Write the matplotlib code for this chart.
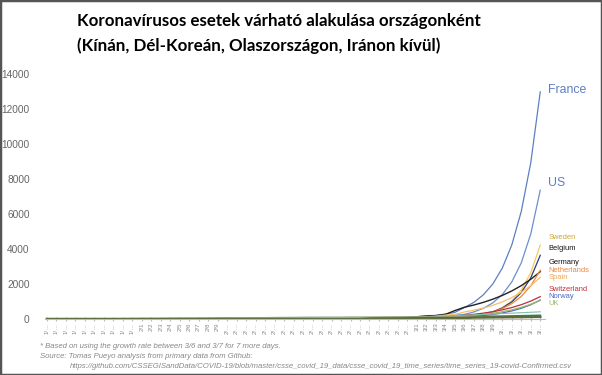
import numpy as np
import pandas as pd
import matplotlib
matplotlib.use('Agg')
import matplotlib.pyplot as plt
from matplotlib.patches import Rectangle

plt.rcParams['font.family'] = ['Liberation Sans', 'DejaVu Sans']

# dátumok 1/22 - 3/14 (3/8-tól becslés)
dates = pd.date_range('2020-01-22', '2020-03-14')
tick_labels = [f'{d.month}/{d.day}' if d.day < 10 else f'{d.month}/…' for d in dates]

france = [0, 0, 2, 3, 3, 3, 4, 5, 5, 5,
          6, 6, 6, 6, 6, 6, 6, 11, 11, 11, 11, 11, 11, 11, 12, 12, 12, 12, 12, 12,
          12, 12, 12, 12, 14, 18, 38, 57, 100,
          130, 191, 204, 285, 377, 653, 949, 1380, 2000, 2910, 4230, 6150, 8930, 12980]
us = [1, 1, 2, 2, 5, 5, 5, 5, 5, 6,
      8, 8, 11, 11, 11, 12, 12, 12, 12, 12, 13, 13, 14, 14, 15, 15, 15, 15, 15, 15,
      35, 35, 35, 53, 53, 59, 60, 62, 68,
      74, 98, 118, 149, 217, 262, 402, 609, 923, 1398, 2118, 3209, 4861, 7365]
sweden = [0, 0, 0, 0, 0, 0, 0, 0, 0, 1,
          1, 1, 1, 1, 1, 1, 1, 1, 1, 1, 1, 1, 1, 1, 1, 1, 1, 1, 1, 1,
          1, 1, 1, 1, 1, 2, 7, 7, 12,
          14, 15, 21, 35, 94, 101, 161, 257, 409, 652, 1040, 1660, 2650, 4220]
belgium = [0, 0, 0, 0, 0, 0, 0, 0, 0, 0,
           0, 0, 0, 1, 1, 1, 1, 1, 1, 1, 1, 1, 1, 1, 1, 1, 1, 1, 1, 1,
           1, 1, 1, 1, 1, 1, 1, 1, 1,
           2, 8, 13, 23, 50, 109, 169, 262, 406, 630, 977, 1514, 2347, 3640]
germany = [0, 0, 0, 0, 0, 1, 4, 4, 4, 5,
           8, 10, 12, 12, 12, 12, 13, 13, 14, 14, 16, 16, 16, 16, 16, 16, 16, 16, 16, 16,
           16, 16, 16, 16, 17, 27, 46, 48, 79,
           130, 159, 196, 262, 482, 670, 799, 951, 1132, 1347, 1603, 1907, 2270, 2700]
netherlands = [0, 0, 0, 0, 0, 0, 0, 0, 0, 0,
               0, 0, 0, 0, 0, 0, 0, 0, 0, 0, 0, 0, 0, 0, 0, 0, 0, 0, 0, 0,
               0, 0, 0, 0, 0, 0, 1, 1, 6,
               10, 18, 24, 38, 82, 128, 188, 276, 406, 597, 877, 1290, 1896, 2787]
spain = [0, 0, 0, 0, 0, 0, 0, 0, 0, 0,
         1, 1, 1, 1, 1, 1, 1, 1, 2, 2, 2, 2, 2, 2, 2, 2, 2, 2, 2, 2,
         2, 2, 2, 2, 6, 13, 15, 32, 45,
         84, 120, 165, 222, 259, 400, 500, 625, 781, 977, 1221, 1526, 1907, 2384]
switzerland = [0, 0, 0, 0, 0, 0, 0, 0, 0, 0,
               0, 0, 0, 0, 0, 0, 0, 0, 0, 0, 0, 0, 0, 0, 0, 0, 0, 0, 0, 0,
               0, 0, 0, 0, 1, 1, 8, 8, 18,
               27, 42, 56, 90, 114, 214, 268, 335, 419, 524, 655, 819, 1023, 1279]
norway = [0, 0, 0, 0, 0, 0, 0, 0, 0, 0,
          0, 0, 0, 0, 0, 0, 0, 0, 0, 0, 0, 0, 0, 0, 0, 0, 0, 0, 0, 0,
          0, 0, 0, 0, 0, 1, 1, 6, 15,
          19, 25, 32, 56, 87, 108, 147, 196, 260, 346, 460, 612, 814, 1083]
uk = [0, 0, 0, 0, 0, 0, 0, 0, 0, 2,
      2, 2, 2, 2, 2, 3, 3, 3, 3, 8, 8, 9, 9, 9, 9, 9, 9, 9, 9, 9,
      9, 9, 9, 9, 13, 13, 15, 20, 23,
      36, 40, 51, 85, 115, 163, 206, 260, 329, 416, 526, 665, 840, 1062]
# címke nélküli országok
other_a = [1, 1, 1, 1, 2, 2, 3, 3, 5, 7,
           9, 9, 9, 10, 10, 12, 12, 12, 13, 13, 13, 14, 14, 15, 20, 27, 31, 35, 40, 44,
           49, 56, 66, 72, 77, 85, 96, 103, 110,
           120, 135, 150, 170, 190, 210, 235, 260, 285, 310, 335, 360, 385, 410]
other_b = [0, 1, 3, 3, 4, 5, 7, 7, 10, 13,
           16, 18, 18, 24, 28, 28, 30, 33, 40, 45, 47, 50, 58, 67, 72, 75, 77, 81, 84, 84,
           85, 85, 89, 89, 91, 93, 96, 98, 102,
           106, 108, 110, 110, 117, 130, 138, 146, 155, 165, 175, 186, 197, 210]
other_c = [0, 2, 2, 5, 8, 8, 8, 10, 10, 12,
           13, 15, 15, 17, 21, 24, 25, 26, 29, 38, 49, 50, 53, 56, 56, 57, 60, 62, 63, 68,
           68, 69, 74, 79, 84, 91, 92, 94, 95,
           96, 100, 100, 105, 105, 107, 108, 109, 110, 111, 112, 113, 114, 115]
other_d = [0, 0, 0, 0, 0, 0, 0, 0, 0, 0,
           0, 0, 0, 0, 0, 0, 0, 0, 0, 0, 0, 0, 0, 0, 0, 0, 0, 0, 0, 0,
           0, 0, 0, 1, 26, 33, 33, 38, 40,
           47, 49, 49, 52, 55, 60, 85, 90, 95, 100, 105, 110, 118, 125]

series = [
    ('France', france, '#5d7fc2', 0.9),
    ('US', us, '#6b8fd0', 0.9),
    ('Sweden', sweden, '#f2cc5a', 0.9),
    ('Belgium', belgium, '#2e3a80', 0.9),
    ('Germany', germany, '#222222', 1.0),
    ('Netherlands', netherlands, '#f0873a', 0.9),
    ('Spain', spain, '#f5bf6a', 0.9),
    ('Switzerland', switzerland, '#b8303c', 0.9),
    ('Norway', norway, '#4a68c8', 0.9),
    ('UK', uk, '#9ab565', 0.9),
    ('', other_a, '#7fc0a8', 0.8),
    ('', other_b, '#3f7a62', 1.2),
    ('', other_c, '#c9b98a', 1.2),
    ('', other_d, '#5c6b3a', 1.8),
]

# címkék a jobb szélen
labels = [
    ('France', 13100, '#5d7fc2', 8.8),
    ('US', 7800, '#5d7fc2', 8.8),
    ('Sweden', 4650, '#c9a63a', 5.4),
    ('Belgium', 4000, '#111111', 5.4),
    ('Germany', 3250, '#111111', 5.4),
    ('Netherlands', 2800, '#f0873a', 5.4),
    ('Spain', 2350, '#e9a850', 5.4),
    ('Switzerland', 1700, '#c0303a', 5.4),
    ('Norway', 1300, '#4a68c8', 5.4),
    ('UK', 900, '#9ab565', 5.4),
]

fig = plt.figure(figsize=(6.02, 3.75), dpi=100)
ax = fig.add_axes([45 / 602, 56 / 375, 500 / 602, 245 / 375])

x = np.arange(len(dates))
for name, vals, color, lw in series:
    ax.plot(x, vals, color=color, linewidth=lw)

for name, yv, color, fs in labels:
    ax.text(52.85, yv, name, color=color, fontsize=fs, va='center', ha='left',
            clip_on=False)

ax.set_xlim(-0.2, 52.5)
ax.set_ylim(0, 14000)
ax.set_yticks(np.arange(0, 14001, 2000))
ax.tick_params(axis='y', length=0, pad=11, labelsize=7.3, labelcolor='#666666')
ax.set_xticks(x)
ax.set_xticklabels(tick_labels, rotation=90, fontsize=4.4, color='#888888')
ax.tick_params(axis='x', length=3, direction='inout', color='#bbbbbb', pad=1)
for s in ['top', 'right', 'left']:
    ax.spines[s].set_visible(False)
ax.spines['bottom'].set_color('#bbbbbb')
ax.spines['bottom'].set_linewidth(0.8)

fig.text(77 / 602, 1 - 21 / 375, 'Koronavírusos esetek várható alakulása országonként',
         fontsize=12.2, fontweight='bold', family='Lato', va='center', ha='left')
fig.text(77 / 602, 1 - 46 / 375, '(Kínán, Dél-Koreán, Olaszországon, Iránon kívül)',
         fontsize=12.2, fontweight='bold', family='Lato', va='center', ha='left')

note_kw = dict(fontsize=5.6, style='italic', color='#888888', va='center', ha='left')
fig.text(40 / 602, 1 - 346 / 375,
         '* Based on using the growth rate between 3/6 and 3/7 for 7 more days.', **note_kw)
fig.text(40 / 602, 1 - 356 / 375,
         'Source: Tomas Pueyo analysis from primary data from Github:', **note_kw)
fig.text(70 / 602, 1 - 366 / 375,
         'https://github.com/CSSEGISandData/COVID-19/blob/master/csse_covid_19_data/'
         'csse_covid_19_time_series/time_series_19-covid-Confirmed.csv', **note_kw)

fig.patches.append(Rectangle((0, 0), 1, 1, transform=fig.transFigure, fill=False,
                             edgecolor='#555555', linewidth=2.5))

fig.savefig('out.png', dpi=100)
